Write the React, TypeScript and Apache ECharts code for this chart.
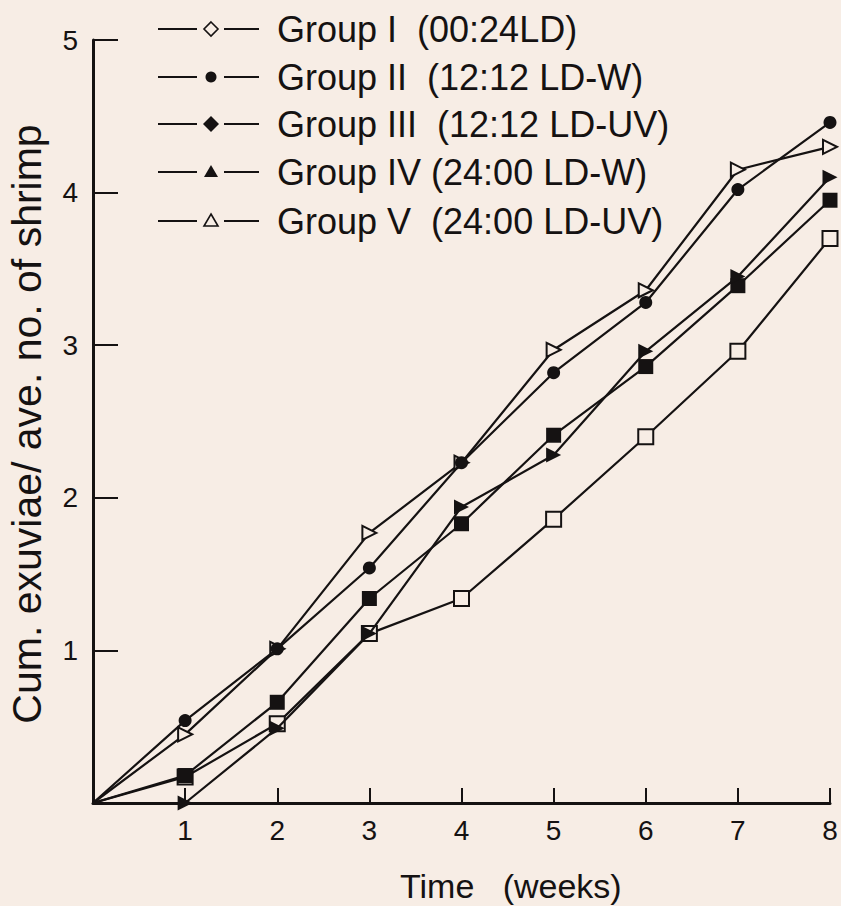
import React, { useEffect, useRef } from "react";
import * as echarts from "echarts";

const weeks = [0, 1, 2, 3, 4, 5, 6, 7, 8];
const groupI = [0, 0.17, 0.52, 1.11, 1.34, 1.86, 2.4, 2.96, 3.7];
const groupII = [0, 0.54, 1.01, 1.54, 2.23, 2.82, 3.28, 4.02, 4.46];
const groupIII = [0, 0.18, 0.66, 1.34, 1.83, 2.41, 2.86, 3.39, 3.95];
const groupIV = [0, 0, 0.49, 1.11, 1.94, 2.28, 2.96, 3.45, 4.1];
const groupV = [0, 0.45, 1.01, 1.77, 2.23, 2.97, 3.36, 4.15, 4.3];

const legendLabels = [
  "Group I  (00:24LD)",
  "Group II  (12:12 LD-W)",
  "Group III  (12:12 LD-UV)",
  "Group IV (24:00 LD-W)",
  "Group V  (24:00 LD-UV)",
];

const xTitle = "Time   (weeks)";
const yTitle = "Cum. exuviae/ ave. no. of shrimp";

const BG = "#f7ede5";
const INK = "#151212";
const FONT = "'Liberation Sans', Arial, Helvetica, sans-serif";

function makeSeries(
  name: string,
  vals: number[],
  symbol: string,
  size: number,
  rotate: number,
  open: boolean
) {
  return {
    type: "line",
    name,
    silent: true,
    z: open ? 3 : 4,
    data: weeks.map((w, i) =>
      i === 0 ? { value: [w, vals[i]], symbol: "none" } : { value: [w, vals[i]] }
    ),
    symbol,
    symbolSize: size,
    symbolRotate: rotate,
    showAllSymbol: true,
    lineStyle: { color: INK, width: 2.2 },
    itemStyle: open
      ? { color: BG, borderColor: INK, borderWidth: 2 }
      : { color: INK, borderWidth: 0 },
    emphasis: { disabled: true },
  };
}

function legendGraphics() {
  const rows = [29, 77, 124, 172, 221];
  const out: any[] = [];
  const mx = 211;
  rows.forEach((y, i) => {
    out.push({
      type: "line",
      shape: { x1: 158, y1: y, x2: 197, y2: y },
      style: { stroke: INK, lineWidth: 2 },
    });
    out.push({
      type: "line",
      shape: { x1: 224, y1: y, x2: 259, y2: y },
      style: { stroke: INK, lineWidth: 2 },
    });
    if (i === 0) {
      out.push({
        type: "polygon",
        shape: { points: [[mx, y - 7], [mx + 7, y], [mx, y + 7], [mx - 7, y]] },
        style: { fill: BG, stroke: INK, lineWidth: 1.6 },
      });
    } else if (i === 1) {
      out.push({
        type: "circle",
        shape: { cx: mx, cy: y, r: 5.5 },
        style: { fill: INK },
      });
    } else if (i === 2) {
      out.push({
        type: "polygon",
        shape: { points: [[mx, y - 8], [mx + 8, y], [mx, y + 8], [mx - 8, y]] },
        style: { fill: INK },
      });
    } else if (i === 3) {
      out.push({
        type: "polygon",
        shape: { points: [[mx, y - 7], [mx + 7, y + 5], [mx - 7, y + 5]] },
        style: { fill: INK },
      });
    } else {
      out.push({
        type: "polygon",
        shape: { points: [[mx, y - 7], [mx + 7, y + 5], [mx - 7, y + 5]] },
        style: { fill: BG, stroke: INK, lineWidth: 1.6 },
      });
    }
    out.push({
      type: "text",
      x: 277,
      y: y,
      style: {
        text: legendLabels[i],
        font: `36px ${FONT}`,
        fill: INK,
        align: "left",
        verticalAlign: "middle",
      },
    });
  });
  out.push({
    type: "text",
    x: 400,
    y: 886,
    style: {
      text: xTitle,
      font: `34px ${FONT}`,
      fill: INK,
      align: "left",
      verticalAlign: "middle",
    },
  });
  out.push({
    type: "text",
    x: 27,
    y: 424,
    rotation: Math.PI / 2,
    style: {
      text: yTitle,
      font: `41px ${FONT}`,
      fill: INK,
      align: "center",
      verticalAlign: "middle",
    },
  });
  return out;
}

export default function App() {
  const ref = useRef<HTMLDivElement>(null);
  useEffect(() => {
    if (!ref.current) return;
    const chart = echarts.init(ref.current, undefined, { renderer: "svg" });
    const axisCommon = {
      type: "value",
      interval: 1,
      axisLine: { show: true, onZero: false, lineStyle: { color: INK, width: 3 } },
      splitLine: { show: false },
      axisLabel: {
        color: INK,
        fontSize: 28,
        fontFamily: FONT,
        formatter: (v: number) => (v === 0 ? "" : String(v)),
      },
    };
    chart.setOption({
      animation: false,
      backgroundColor: BG,
      grid: { left: 93, right: 11, top: 40, bottom: 103, containLabel: false },
      xAxis: {
        ...axisCommon,
        min: 0,
        max: 8,
        axisTick: { show: true, inside: true, length: 15, lineStyle: { color: INK, width: 2 } },
        axisLabel: { ...axisCommon.axisLabel, margin: 13 },
      },
      yAxis: {
        ...axisCommon,
        min: 0,
        max: 5,
        axisTick: { show: true, inside: true, length: 25, lineStyle: { color: INK, width: 2 } },
        axisLabel: { ...axisCommon.axisLabel, margin: 15 },
      },
      series: [
        makeSeries("Group I", groupI, "rect", 15, 0, true),
        makeSeries("Group II", groupII, "circle", 13, 0, false),
        makeSeries("Group III", groupIII, "rect", 15, 0, false),
        makeSeries("Group IV", groupIV, "triangle", 15, -90, false),
        makeSeries("Group V", groupV, "triangle", 14, -90, true),
      ],
      graphic: legendGraphics(),
    });
    return () => chart.dispose();
  }, []);
  return (
    <div
      ref={ref}
      style={{ position: "fixed", left: 0, top: 0, width: 841, height: 906 }}
    />
  );
}
